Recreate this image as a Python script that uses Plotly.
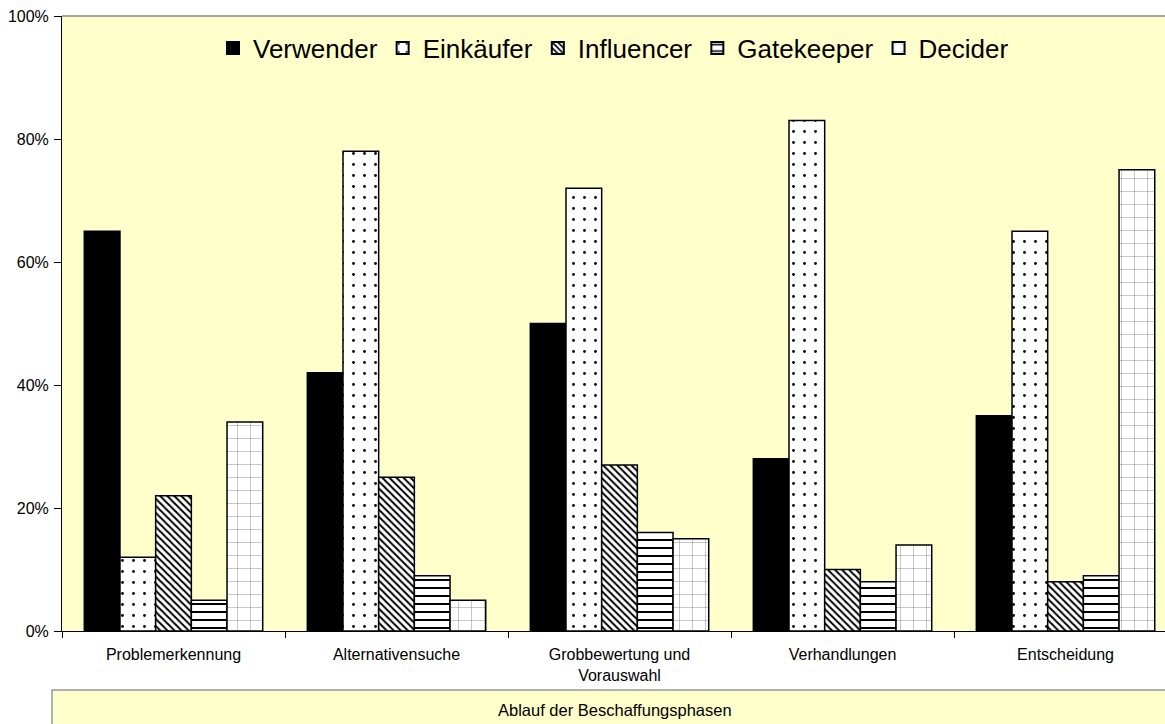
import plotly.graph_objects as go

categories = ["Problemerkennung", "Alternativensuche", "Grobbewertung und<br>Vorauswahl", "Verhandlungen", "Entscheidung"]
series_names = ["Verwender", "Einkäufer", "Influencer", "Gatekeeper", "Decider"]
verwender = [0.65, 0.42, 0.50, 0.28, 0.35]
einkaeufer = [0.12, 0.78, 0.72, 0.83, 0.65]
influencer = [0.22, 0.25, 0.27, 0.10, 0.08]
gatekeeper = [0.05, 0.09, 0.16, 0.08, 0.09]
decider = [0.34, 0.05, 0.15, 0.14, 0.75]
series_values = [verwender, einkaeufer, influencer, gatekeeper, decider]
y_tickvals = [0, 0.2, 0.4, 0.6, 0.8, 1.0]
y_ticktext = ["0%", "20%", "40%", "60%", "80%", "100%"]

styles = [
    dict(color="black", pattern=dict(shape="")),
    dict(color="white", pattern=dict(shape=".", fgcolor="black", bgcolor="white", size=11, solidity=0.05, fillmode="replace")),
    dict(color="white", pattern=dict(shape="\\", fgcolor="black", bgcolor="white", size=5, solidity=0.4, fillmode="replace")),
    dict(color="white", pattern=dict(shape="-", fgcolor="black", bgcolor="white", size=8, solidity=0.25, fillmode="replace")),
    dict(color="white", pattern=dict(shape="+", fgcolor="#555555", bgcolor="white", size=13, solidity=0.05, fillmode="replace")),
]

FONT = "Liberation Sans, Arial, sans-serif"

fig = go.Figure()
for name, vals, st in zip(series_names, series_values, styles):
    fig.add_trace(go.Bar(
        x=categories, y=vals, name=name,
        marker=dict(color=st["color"], pattern=st["pattern"], line=dict(color="black", width=1.5)),
    ))

W, H = 1165, 724
L, R, T, B = 62, 0, 16, 93
ph = H - T - B
pw = W - L - R

def py(pix):
    return (H - B - pix) / ph

def px(pix):
    return (pix - L) / pw

fig.update_layout(
    width=W, height=H, autosize=False,
    margin=dict(l=L, r=R, t=T, b=B, pad=0),
    paper_bgcolor="white",
    plot_bgcolor="#FFFFCC",
    barmode="group", bargap=0.2, bargroupgap=0,
    font=dict(family=FONT, color="black", size=16),
    showlegend=True,
    legend=dict(orientation="h", x=0.5, xanchor="center", y=py(48), yanchor="middle",
                font=dict(size=26, family=FONT), bgcolor="rgba(0,0,0,0)",
                itemsizing="constant", traceorder="normal"),
    xaxis=dict(type="category", range=[-0.5, 4.446], showline=True, linecolor="black", linewidth=1,
               ticks="outside", tickson="boundaries", ticklen=6, tickcolor="black",
               ticklabelstandoff=9,
               showgrid=False, tickfont=dict(size=16, family=FONT)),
    yaxis=dict(range=[0, 1], tickvals=y_tickvals, ticktext=y_ticktext, showline=True,
               linecolor="black", linewidth=1, ticks="outside", ticklen=7, tickcolor="black",
               ticklabelstandoff=2,
               showgrid=False, zeroline=False, tickfont=dict(size=16, family=FONT)),
    shapes=[
        dict(type="line", xref="paper", yref="paper", x0=0, x1=1.0, y0=1, y1=1,
             line=dict(color="#888888", width=1.5)),
        dict(type="rect", xref="paper", yref="paper", x0=px(52), x1=px(1170), y0=py(690), y1=py(730),
             fillcolor="#FFFFCC", line=dict(color="#999999", width=1.5), layer="above"),
    ],
    annotations=[
        dict(text="Ablauf der Beschaffungsphasen", xref="paper", yref="paper", x=px(615), y=py(710),
             showarrow=False, font=dict(size=16.5, family=FONT), xanchor="center", yanchor="middle"),
    ],
)

fig.write_html("out.html")
